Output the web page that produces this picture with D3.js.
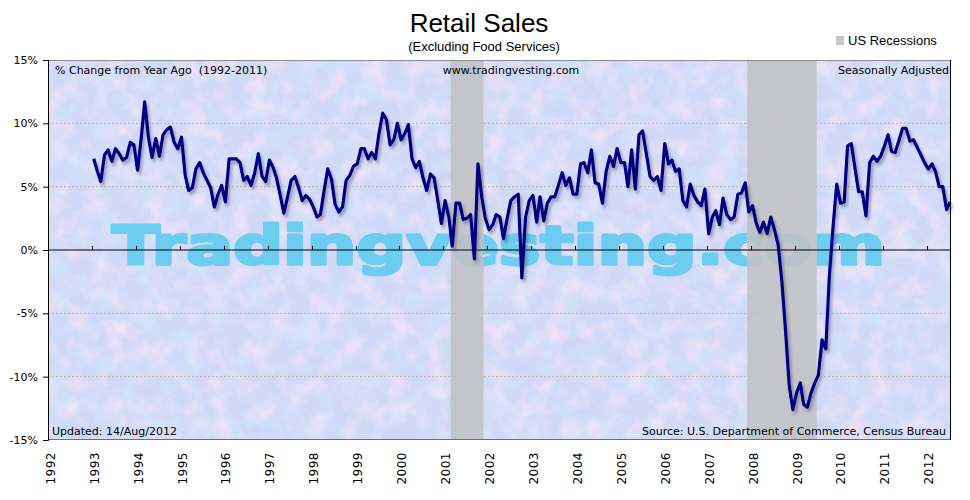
<!DOCTYPE html>
<html>
<head>
<meta charset="utf-8">
<script src="https://cdnjs.cloudflare.com/ajax/libs/d3/7.8.5/d3.min.js"></script>
<style>
  body { margin: 0; background: #fff; }
  text { font-family: "DejaVu Sans", Verdana, sans-serif; }
</style>
</head>
<body>
<div id="chart"></div>
<script>
// Retail sales excl. food services, % change from year ago (monthly, from Jan 1993)
var yoy1993 = [7.2, 6.2, 5.4, 7.5, 7.9, 7.0, 8.0, 7.6, 7.1, 7.3, 8.5, 8.3];
var yoy1994 = [6.3, 8.9, 11.7, 8.9, 7.3, 8.8, 7.4, 9.1, 9.5, 9.7, 8.5, 8.0];
var yoy1995 = [8.9, 5.9, 4.7, 4.9, 6.4, 6.9, 6.1, 5.5, 4.9, 3.4, 4.4, 5.1];
var yoy1996 = [3.8, 7.2, 7.2, 7.2, 6.9, 5.5, 5.8, 5.1, 6.1, 7.6, 5.8, 5.4];
var yoy1997 = [7.1, 6.5, 5.7, 4.3, 2.9, 4.2, 5.5, 5.8, 4.9, 3.9, 4.3, 4.0];
var yoy1998 = [3.4, 2.6, 2.8, 4.7, 6.4, 5.6, 3.6, 3.0, 3.4, 5.5, 5.9, 6.6];
var yoy1999 = [6.8, 8.0, 8.0, 7.2, 7.7, 7.2, 9.2, 10.8, 10.3, 8.3, 8.7, 10.0];
var yoy2000 = [8.7, 9.2, 9.9, 7.2, 6.5, 7.0, 5.7, 4.7, 6.0, 5.7, 3.9, 2.1];
var yoy2001 = [3.9, 2.6, 0.3, 3.7, 3.7, 2.4, 2.5, 2.8, -0.7, 6.8, 4.2, 2.5];
var yoy2002 = [1.6, 2.0, 2.8, 2.6, 0.9, 2.5, 3.9, 4.2, 4.4, -2.2, 2.6, 3.9];
var yoy2003 = [4.3, 2.2, 4.2, 2.3, 3.7, 4.2, 4.2, 5.1, 6.1, 5.1, 5.7, 4.4];
var yoy2004 = [4.4, 6.8, 6.9, 6.1, 7.9, 5.3, 5.2, 3.7, 6.2, 7.4, 6.6, 8.0];
var yoy2005 = [6.9, 6.9, 5.0, 7.9, 4.8, 9.1, 9.4, 7.6, 5.8, 5.5, 5.8, 4.7];
var yoy2006 = [8.4, 6.8, 7.1, 6.2, 6.4, 3.9, 3.4, 5.2, 4.3, 3.8, 3.5, 4.8];
var yoy2007 = [1.3, 2.6, 3.1, 2.0, 4.1, 2.8, 2.4, 2.6, 4.4, 4.5, 5.3, 3.0];
var yoy2008 = [3.5, 2.1, 1.4, 2.2, 1.3, 2.6, 1.6, 0.4, -2.5, -6.3, -10.7, -12.6];
var yoy2009 = [-11.3, -10.5, -12.2, -12.4, -11.3, -10.5, -9.9, -7.1, -7.8, -2.0, 1.9, 5.2];
var yoy2010 = [3.7, 3.8, 8.2, 8.4, 6.5, 4.6, 4.6, 2.7, 6.9, 7.4, 7.0, 7.4];
var yoy2011 = [8.2, 9.1, 7.8, 7.7, 8.6, 9.6, 9.6, 8.6, 8.7, 8.1, 7.5, 6.9];
var yoy2012 = [6.4, 6.8, 6.2, 5.0, 5.0, 3.2, 3.8];

// US recessions: [start year, start month, end year, end month] (months 0-based)
var recessions = [[2001, 2, 2001, 10], [2007, 11, 2009, 5]];

var yTicks = [15, 10, 5, 0, -5, -10, -15];
var gridTicks = [10, 5, -5, -10];
var yearLabels = d3.range(1992, 2013);

var allYears = [yoy1993, yoy1994, yoy1995, yoy1996, yoy1997, yoy1998, yoy1999, yoy2000,
    yoy2001, yoy2002, yoy2003, yoy2004, yoy2005, yoy2006, yoy2007, yoy2008, yoy2009,
    yoy2010, yoy2011, yoy2012];

var seldata = [];
allYears.forEach(function(vals, i) {
    vals.forEach(function(v, m) {
        seldata.push({ date: new Date(1993 + i, m, 15), value: v });
    });
});

var margin = { top: 60, right: 19, bottom: 60, left: 48 },
    width = 970 - margin.left - margin.right,
    height = 500 - margin.top - margin.bottom;

var svg = d3.select("#chart")
    .append("svg")
    .attr("width", 970)
    .attr("height", 500);

var defs = svg.append("defs");

// mottled background texture: pink blotches, blue blotches, fine grain
function noiseFilter(id, freq, seed, rgb, a, b) {
    var f = defs.append("filter").attr("id", id)
        .attr("x", 0).attr("y", 0).attr("width", "100%").attr("height", "100%");
    f.append("feTurbulence")
        .attr("type", "fractalNoise").attr("baseFrequency", freq)
        .attr("numOctaves", 3).attr("seed", seed).attr("result", "t");
    f.append("feColorMatrix").attr("in", "t").attr("type", "matrix")
        .attr("values", "0 0 0 0 " + rgb[0] + "  0 0 0 0 " + rgb[1] + "  0 0 0 0 " + rgb[2] +
            "  " + a + " 0 0 0 " + b);
}
noiseFilter("pink", "0.05", 7, [0.93, 0.78, 0.93], 2.2, -0.95);
noiseFilter("blue", "0.045", 19, [0.62, 0.8, 0.97], 2.2, -0.95);
noiseFilter("grain", "0.6", 3, [0.7, 0.72, 0.95], 1.6, -0.6);

var shadow = defs.append("filter").attr("id", "shadow")
    .attr("x", "-5%").attr("y", "-5%").attr("width", "110%").attr("height", "110%");
shadow.append("feDropShadow")
    .attr("dx", 2).attr("dy", 3).attr("stdDeviation", 1.5)
    .attr("flood-color", "#404060").attr("flood-opacity", 0.45);

var g = svg.append("g")
    .attr("transform", "translate(" + margin.left + "," + margin.top + ")");

var x = d3.scaleTime()
    .domain([new Date(1992, 0, 1), new Date(2012, 6, 22)])
    .range([0, width]);

var y = d3.scaleLinear()
    .domain([-15, 15])
    .range([height, 0]);

// plot background
g.append("rect").attr("width", width).attr("height", height).attr("fill", "#cdd8f6");
["blue", "pink", "grain"].forEach(function(id) {
    g.append("rect").attr("width", width).attr("height", height)
        .attr("filter", "url(#" + id + ")");
});

// watermark
g.append("text")
    .attr("x", 64)
    .attr("y", y(-1.1))
    .attr("textLength", 773)
    .attr("lengthAdjust", "spacingAndGlyphs")
    .attr("font-size", "53px")
    .attr("font-weight", "bold")
    .attr("fill", "#6ccdf0")
    .attr("stroke", "#6ccdf0")
    .attr("stroke-width", 3)
    .attr("stroke-linejoin", "round")
    .text("Tradingvesting.com");

// gridlines
g.selectAll(".grid")
    .data(gridTicks)
    .enter()
    .append("line")
    .attr("x1", 0).attr("x2", width)
    .attr("y1", d => y(d)).attr("y2", d => y(d))
    .attr("stroke", "#c2b39c")
    .attr("stroke-dasharray", "2,2");

// recession bands
g.selectAll(".rec")
    .data(recessions)
    .enter()
    .append("rect")
    .attr("x", d => x(new Date(d[0], d[1], 1)))
    .attr("width", d => x(new Date(d[2], d[3] + 1, 1)) - x(new Date(d[0], d[1], 1)))
    .attr("y", 0)
    .attr("height", height)
    .attr("fill", "#c0c2c4")
    .attr("opacity", 0.88);

// zero line with year ticks
g.append("line")
    .attr("x1", 0).attr("x2", width)
    .attr("y1", y(0)).attr("y2", y(0))
    .attr("stroke", "#000").attr("stroke-width", 1.2);

g.selectAll(".ytick")
    .data(yearLabels.slice(1))
    .enter()
    .append("line")
    .attr("x1", d => Math.round(x(new Date(d, 0, 1))) + 0.5)
    .attr("x2", d => Math.round(x(new Date(d, 0, 1))) + 0.5)
    .attr("y1", y(0)).attr("y2", y(0) - 4)
    .attr("stroke", "#000");

// the series
var line = d3.line()
    .x(d => x(d.date))
    .y(d => y(d.value));

g.append("path")
    .datum(seldata)
    .attr("d", line)
    .attr("fill", "none")
    .attr("stroke", "#000080")
    .attr("stroke-width", 3.2)
    .attr("stroke-linejoin", "round")
    .attr("filter", "url(#shadow)");

// frame
g.append("line").attr("x1", 0).attr("x2", width).attr("y1", 0.5).attr("y2", 0.5)
    .attr("stroke", "#8c8c8c");
g.append("line").attr("x1", 0).attr("x2", width).attr("y1", height - 0.5).attr("y2", height - 0.5)
    .attr("stroke", "#6e6e6e");
g.append("line").attr("x1", width - 0.5).attr("x2", width - 0.5).attr("y1", 0).attr("y2", height)
    .attr("stroke", "#000");

// y axis
var yAxis = d3.axisLeft(y)
    .tickValues(yTicks)
    .tickFormat(d => d + "%")
    .tickSize(5)
    .tickPadding(5);

var yG = g.append("g").call(yAxis);
yG.select(".domain").attr("stroke", "#000");
yG.selectAll("text")
    .attr("font-family", "DejaVu Sans, Verdana, sans-serif")
    .attr("font-size", "11px")
    .attr("fill", "#000");

// year labels
g.selectAll(".xlab")
    .data(yearLabels)
    .enter()
    .append("text")
    .attr("transform", d => "translate(" + (x(new Date(d, 0, 1)) + 2.5) + "," + (height + 12) + ") rotate(-90)")
    .attr("dy", "0.35em")
    .attr("text-anchor", "end")
    .attr("font-size", "12px")
    .attr("letter-spacing", "0.5px")
    .text(d => d);

// notes inside plot
g.append("text").attr("x", 7).attr("y", 14).attr("font-size", "11px")
    .attr("xml:space", "preserve")
    .text("% Change from Year Ago  (1992-2011)");
g.append("text").attr("x", 463).attr("y", 14).attr("font-size", "11px")
    .attr("text-anchor", "middle")
    .text("www.tradingvesting.com");
g.append("text").attr("x", width - 2).attr("y", 14).attr("font-size", "11px")
    .attr("text-anchor", "end")
    .text("Seasonally Adjusted");
g.append("text").attr("x", 4).attr("y", height - 5).attr("font-size", "11px")
    .text("Updated: 14/Aug/2012");
g.append("text").attr("x", width - 5).attr("y", height - 5).attr("font-size", "11px")
    .attr("text-anchor", "end")
    .text("Source: U.S. Department of Commerce, Census Bureau");

// titles
svg.append("text")
    .attr("x", 479).attr("y", 32)
    .attr("text-anchor", "middle")
    .style("font-family", "'Liberation Sans', Arial, sans-serif")
    .attr("font-size", "26px")
    .text("Retail Sales");
svg.append("text")
    .attr("x", 484).attr("y", 51)
    .attr("text-anchor", "middle")
    .style("font-family", "'Liberation Sans', Arial, sans-serif")
    .attr("font-size", "13px")
    .text("(Excluding Food Services)");

// legend
svg.append("rect").attr("x", 836).attr("y", 36).attr("width", 8).attr("height", 9)
    .attr("fill", "#c8c8c8");
svg.append("text").attr("x", 848).attr("y", 45)
    .style("font-family", "'Liberation Sans', Arial, sans-serif")
    .attr("font-size", "13px")
    .text("US Recessions");
</script>
</body>
</html>
